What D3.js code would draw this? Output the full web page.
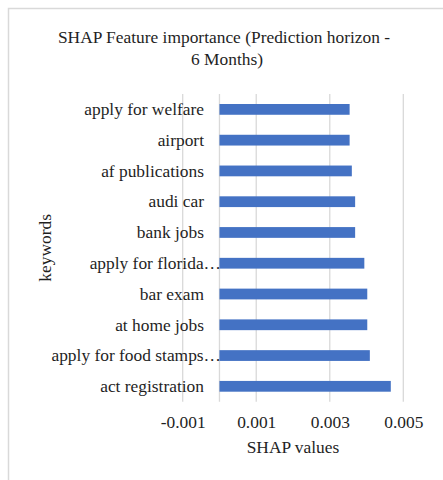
<!DOCTYPE html>
<html><head><meta charset="utf-8">
<script src="https://cdn.jsdelivr.net/npm/d3@7"></script>
<style>
html,body{margin:0;padding:0;background:#fff;}
text{font-family:"Liberation Serif","Times New Roman",serif;fill:#1f1f1f;}
</style></head>
<body><div id="chart"></div>
<script>
const categories = ["apply for welfare","airport","af publications","audi car","bank jobs","apply for florida…","bar exam","at home jobs","apply for food stamps…","act registration"];
const shapValues = [0.00354,0.00354,0.00360,0.00369,0.00369,0.00394,0.00402,0.00402,0.00409,0.00466];
const tickValues = [-0.001,0.001,0.003,0.005];
const tickLabels = ["-0.001","0.001","0.003","0.005"];
const titleLines = ["SHAP Feature importance (Prediction horizon -","6 Months)"];
const xTitle = "SHAP values";
const yTitle = "keywords";

const W=443,H=480,FS=17.4;
const svg=d3.select("#chart").append("svg").attr("width",W).attr("height",H);
svg.append("rect").attr("width",W).attr("height",H).attr("fill","#fff");
// chart border (top & left visible)
svg.append("path").attr("d",`M8.5,${H} V8.5 H${W}`).attr("fill","none").attr("stroke","#d9d9d9").attr("stroke-width",1.5);

const plot={left:182.7,right:403.3,top:94,bottom:401.7};
const x=d3.scaleLinear().domain([-0.001,0.005]).range([plot.left,plot.right]);
const y=d3.scaleBand().domain(categories).range([plot.top,plot.bottom]).paddingInner(0.65).paddingOuter(0.325);

// gridlines
const grid=svg.append("g");
grid.selectAll("line.g").data(tickValues.concat([0])).join("line")
  .attr("x1",d=>x(d)).attr("x2",d=>x(d)).attr("y1",plot.top).attr("y2",plot.bottom)
  .attr("stroke","#d9d9d9").attr("stroke-width",1.3);

// category labels
svg.append("g").selectAll("text").data(categories).join("text")
  .attr("x",d=>d.endsWith("…")?221:204)
  .attr("y",d=>y(d)+y.bandwidth()/2)
  .attr("dy","0.33em").attr("text-anchor","end").attr("font-size",FS)
  .text(d=>d);

// bars
svg.append("g").selectAll("rect").data(categories).join("rect")
  .attr("x",x(0)).attr("y",d=>y(d))
  .attr("width",(d,i)=>x(shapValues[i])-x(0)).attr("height",y.bandwidth())
  .attr("fill","#4472C4");

// x axis ticks
const xAxis=d3.axisBottom(x).tickValues(tickValues).tickFormat((d,i)=>tickLabels[i]).tickSize(0).tickPadding(0);
const ga=svg.append("g").attr("transform",`translate(0,${plot.bottom})`).call(xAxis);
ga.select(".domain").remove();
ga.selectAll("text").attr("font-size",FS).attr("dy",null).attr("y",26.5);

// titles
svg.append("text").attr("x",224).attr("y",43).attr("text-anchor","middle").attr("font-size",FS).text(titleLines[0]);
svg.append("text").attr("x",227).attr("y",64.5).attr("text-anchor","middle").attr("font-size",FS).text(titleLines[1]);
svg.append("text").attr("x",293).attr("y",453).attr("text-anchor","middle").attr("font-size",FS).text(xTitle);
svg.append("text").attr("transform",`translate(51,${(plot.top+plot.bottom)/2}) rotate(-90)`).attr("text-anchor","middle").attr("font-size",FS).text(yTitle);
</script></body></html>
